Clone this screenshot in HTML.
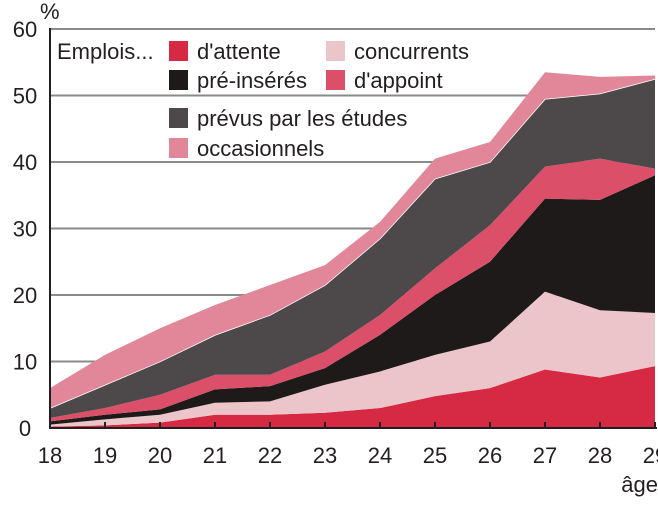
<!DOCTYPE html>
<html><head><meta charset="utf-8"><style>
body{margin:0;background:#fff}
svg text{font-family:"Liberation Sans",sans-serif;fill:#231f20}
</style></head><body>
<svg id="chart" width="658" height="500" xmlns="http://www.w3.org/2000/svg">
<g id="grid"></g>
<g id="areas"></g>
<g id="axes"></g>
<g id="legend"></g>
</svg>
<script>
const ages = [18,19,20,21,22,23,24,25,26,27,28,29];
const attente      = [0.2,0.4,0.8,2.0,2.0,2.3,3.0,4.8,6.0,8.8,7.6,9.3];
const concurrents  = [0.3,0.9,1.2,1.8,2.0,4.2,5.5,6.2,7.0,11.7,10.1,8.0];
const preInseres   = [0.5,0.7,0.8,2.0,2.3,2.5,5.5,9.0,12.0,14.0,16.6,20.7];
const appoint      = [0.5,1.0,2.2,2.2,1.7,2.5,3.0,4.0,5.5,4.8,6.2,1.0];
const etudes       = [1.5,3.5,5.0,6.0,9.0,10.0,11.5,13.5,9.5,10.2,9.8,13.5];
const occasionnels = [3.0,4.5,5.0,4.5,4.5,3.0,2.5,3.0,3.0,4.0,2.5,0.5];
const yTicks = [0,10,20,30,40,50,60];
const seriesNames = ["attente","concurrents","pre-inseres","appoint","etudes","occasionnels"];
const seriesLabels = ["d'attente","concurrents","pré-insérés","d'appoint","prévus par les études","occasionnels"];
const colors = ["#d62a44","#ecc5cb","#1e1a19","#db4f69","#4d4849","#e28799"];

const NS="http://www.w3.org/2000/svg";
const x0=50,x1=655,y0=428,y60=29;
const xs=a=>x0+(a-ages[0])*(x1-x0)/(ages[ages.length-1]-ages[0]);
const ys=v=>y0-v*(y0-y60)/60;
function mk(tag,attrs,parent){const e=document.createElementNS(NS,tag);for(const k in attrs)e.setAttribute(k,attrs[k]);parent.appendChild(e);return e;}
const grid=document.getElementById('grid'),areas=document.getElementById('areas'),axes=document.getElementById('axes'),legend=document.getElementById('legend');

yTicks.forEach(t=>{
  if(t>0){const l=mk('line',{x1:x0,x2:x1,y1:ys(t),y2:ys(t),stroke:'#8a8a8a','stroke-width':2},grid);
  
  }
  const tx=mk('text',{x:25,y:ys(t)+8,'font-size':22,'text-anchor':'middle'},axes);
  tx.textContent=t;
  
  
});

const all=[attente,concurrents,preInseres,appoint,etudes,occasionnels];
let base=ages.map(()=>0);
all.forEach((s,i)=>{
  const top=base.map((b,j)=>b+s[j]);
  let d='M'+ages.map((a,j)=>xs(a)+','+ys(top[j])).join(' L');
  for(let j=ages.length-1;j>=0;j--)d+=' L'+xs(ages[j])+','+ys(base[j]);
  d+=' Z';
  const p=mk('path',{d:d,fill:colors[i]},areas);
  
  
  if(i===4){const ln=mk('polyline',{points:ages.map((a,j)=>xs(a)+','+ys(top[j])).join(' '),fill:'none',stroke:'#fff','stroke-width':1.5},areas);
  
  }
  base=top;
});

const ya=mk('line',{x1:x0,x2:x0,y1:y60-1,y2:y0+1,stroke:'#231f20','stroke-width':2},axes);


const xa=mk('line',{x1:x0,x2:x1+2,y1:y0,y2:y0,stroke:'#231f20','stroke-width':2},axes);


ages.forEach(a=>{
  const tk=mk('line',{x1:xs(a),x2:xs(a),y1:y0-6,y2:y0,stroke:'#231f20','stroke-width':2},axes);
  
  
  const tx=mk('text',{x:xs(a),y:463,'font-size':22,'text-anchor':'middle'},axes);
  tx.textContent=a;
  
  
});
const pc=mk('text',{x:40,y:19,'font-size':22},axes);pc.textContent='%';


const ag=mk('text',{x:658,y:492,'font-size':22,'text-anchor':'end'},axes);ag.textContent='âge';



const em=mk('text',{x:57,y:59,'font-size':22},legend);em.textContent='Emplois...';


const pos=[[169,51],[326,51],[169,80],[326,80],[169,118],[169,148]];
seriesLabels.forEach((lab,i)=>{
  const [lx,ly]=pos[i];
  const r=mk('rect',{x:lx,y:ly-10,width:19,height:20,fill:colors[i]},legend);
  
  
  const t=mk('text',{x:lx+28,y:ly+8,'font-size':22},legend);t.textContent=lab;
  
  
});
</script>
</body></html>
